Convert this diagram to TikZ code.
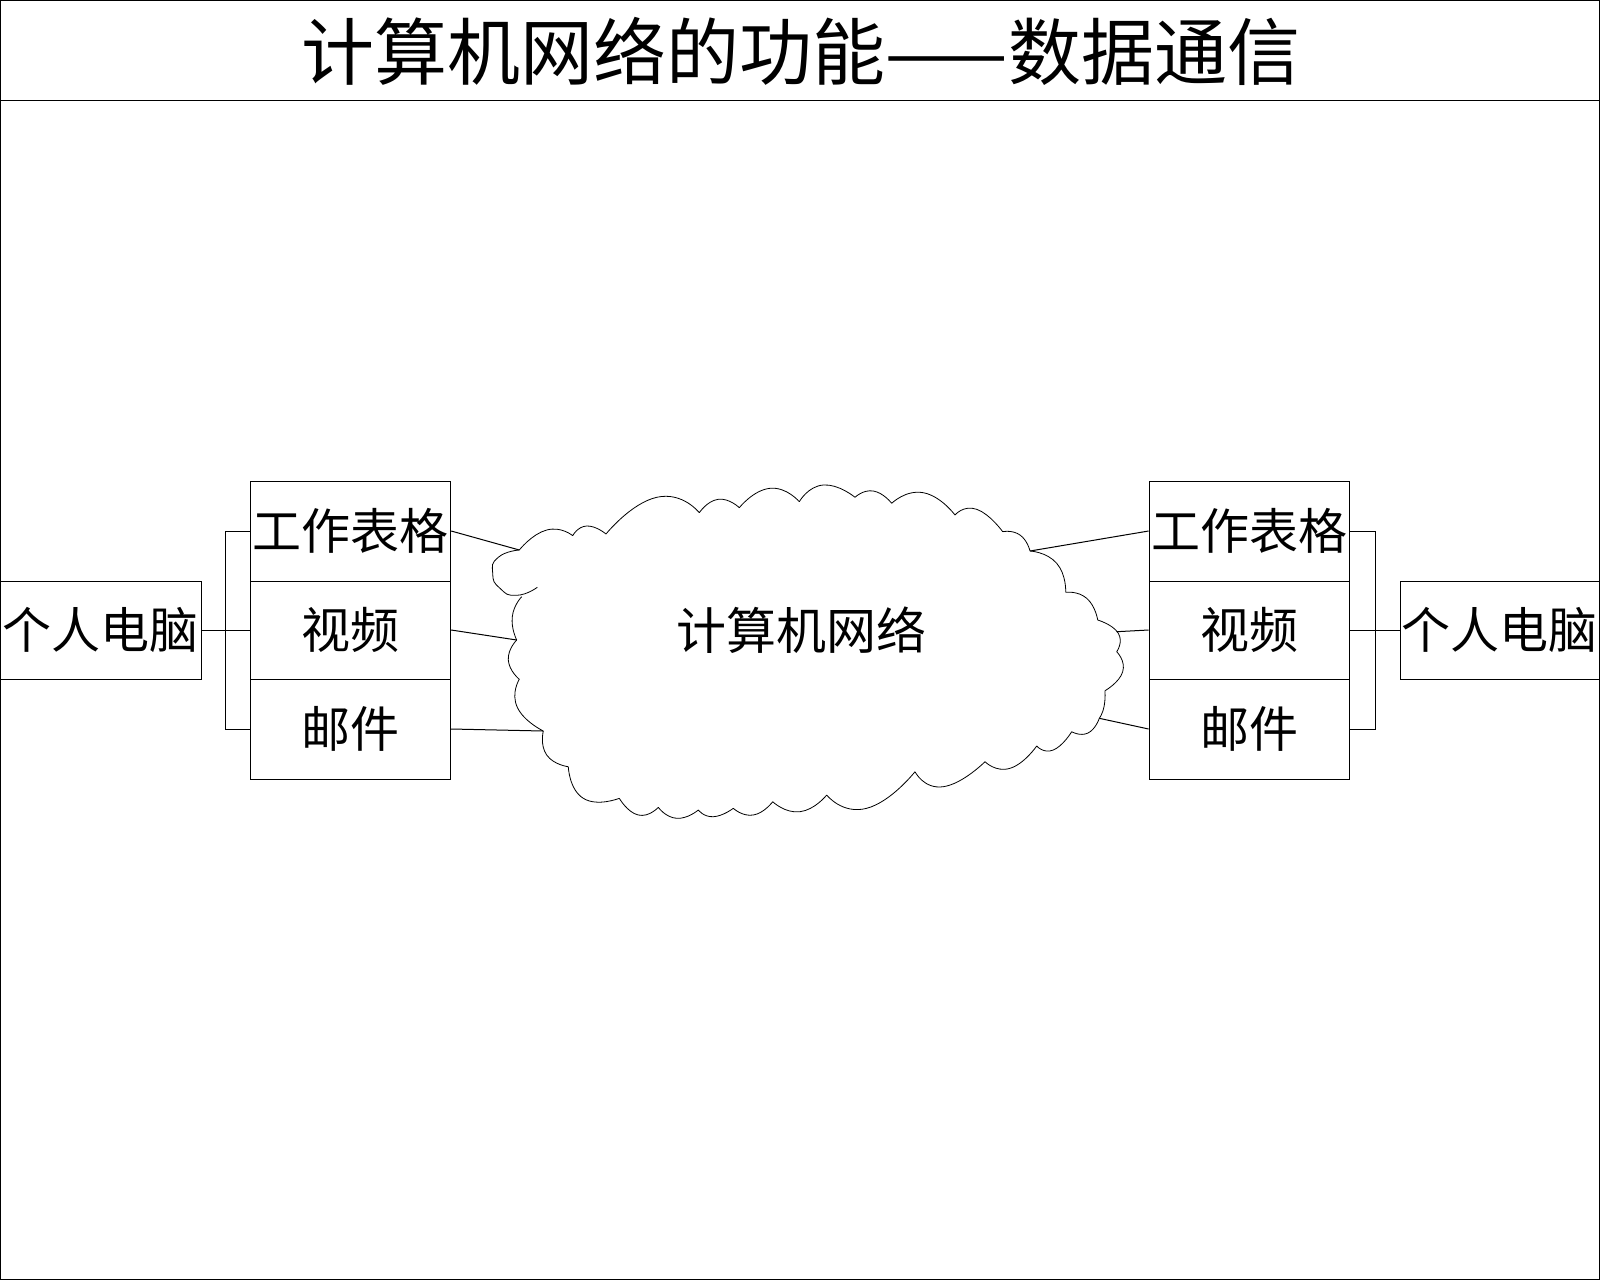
\documentclass[tikz,border=0pt]{standalone}
\usepackage{fontspec}
\setmainfont{Noto Sans CJK SC}
\begin{document}
\begin{tikzpicture}[x={(1pt,0pt)}, y={(0pt,-1pt)}, line width=1pt,
  box/.style={draw, inner sep=0pt, minimum width=200.4pt, font=\fontsize{49}{49}\selectfont},
  pc/.style={draw, inner sep=0pt, minimum height=98pt, font=\fontsize{49}{49}\selectfont},
  lobe/.style={smooth, tension=1}]
\useasboundingbox (0,0) rectangle (1600,1280);
% frame and title
\draw (0.5,0.5) rectangle (1599,1279);
\draw (0.5,100) -- (1599,100);
\node[font=\fontsize{73}{73}\selectfont, inner sep=0pt] (title) at (801,51) {计算机网络的功能——数据通信};

% left side
\node[pc, minimum width=201pt] (pcL) at (100.5,630) {个人电脑};
\node[box, minimum height=100pt] (wsL) at (350.5,531) {工作表格};
\node[box, minimum height=98pt] (vidL) at (350.5,630) {视频};
\node[box, minimum height=100pt] (mailL) at (350.5,729) {邮件};

% right side
\node[pc, minimum width=199pt] (pcR) at (1499.8,630) {个人电脑};
\node[box, minimum height=100pt] (wsR) at (1249.3,531) {工作表格};
\node[box, minimum height=98pt] (vidR) at (1249.3,630) {视频};
\node[box, minimum height=100pt] (mailR) at (1249.3,729) {邮件};

% brackets
\draw (pcL.east) -- (vidL.west);
\draw (wsL.west) -- ++(-24.6,0) |- (mailL.west);
\draw (vidR.east) -- (pcR.west);
\draw (wsR.east) -- ++(25,0) |- (mailR.east);

% cloud
\node[font=\fontsize{50}{50}\selectfont, inner sep=0pt] (net) at (801,630) {计算机网络};
\coordinate (k1) at (519.3,550);
\coordinate (k2) at (516.7,640);
\coordinate (k3) at (543.3,731);
\coordinate (k4) at (1030,551);
\coordinate (k5) at (1116.7,631.7);
\coordinate (k6) at (1099.3,718.3);
\draw[line width=0.8pt]
  plot[lobe] coordinates {(519.3,550) (546.7,530) (572.7,535.7)}
  plot[lobe] coordinates {(572.7,535.7) (586.7,526) (606,534)}
  plot[lobe] coordinates {(606,534) (656.7,497.3) (699.3,512.7)}
  plot[lobe] coordinates {(699.3,512.7) (718.3,499.3) (739.3,507.7)}
  plot[lobe] coordinates {(739.3,507.7) (770,488.3) (799.3,501.7)}
  plot[lobe] coordinates {(799.3,501.7) (823.3,485) (855,497.3)}
  plot[lobe] coordinates {(855,497.3) (873.3,491) (891.7,503.3)}
  plot[lobe] coordinates {(891.7,503.3) (923.3,492.7) (955,515)}
  plot[lobe] coordinates {(955,515) (976.7,509.3) (1002.7,531.7)}
  plot[lobe] coordinates {(1002.7,531.7) (1020,535) (1030,551)}
  plot[lobe] coordinates {(1030,551) (1056.7,563.3) (1065.7,592.3)}
  plot[lobe] coordinates {(1065.7,592.3) (1086.7,598.3) (1097.7,620)}
  plot[lobe] coordinates {(1097.7,620) (1118.3,633.3) (1116.7,651.7)}
  plot[lobe] coordinates {(1116.7,651.7) (1122.7,671.7) (1105,690.7)}
  plot[lobe] coordinates {(1105,690.7) (1104,706.7) (1099.3,718.3)}
  plot[lobe] coordinates {(1099.3,718.3) (1088,733) (1071.7,731.7)}
  plot[lobe] coordinates {(1071.7,731.7) (1053.3,750) (1036.7,746)}
  plot[lobe] coordinates {(1036.7,746) (1010,768.3) (985,761.7)}
  plot[lobe] coordinates {(985,761.7) (943.3,786.7) (915,771.7)}
  plot[lobe] coordinates {(915,771.7) (866.7,808.3) (826.7,795)}
  plot[lobe] coordinates {(826.7,795) (800,811.7) (772.7,801.7)}
  plot[lobe] coordinates {(772.7,801.7) (753.3,815) (733.3,808.3)}
  plot[lobe] coordinates {(733.3,808.3) (713.3,816.7) (698.3,810)}
  plot[lobe] coordinates {(698.3,810) (676.7,818.3) (658.3,807.3)}
  plot[lobe] coordinates {(658.3,807.3) (638.3,815) (619.3,798.3)}
  plot[lobe] coordinates {(619.3,798.3) (583.3,798.3) (568.3,766.7)}
  plot[lobe] coordinates {(568.3,766.7) (546.7,755) (543.3,731)}
  plot[lobe] coordinates {(543.3,731) (517.3,707.3) (519.3,679.3)}
  plot[lobe] coordinates {(519.3,679.3) (508.3,660) (516.7,640)}
  plot[lobe] coordinates {(516.7,640) (512.3,616.7) (521.7,596.7)}
  plot[lobe] coordinates {(519.3,550) (498.3,557.3) (492.7,573.3) (500,588.3) (516.7,595.3) (537.3,587.3)};

% connectors to the cloud
\draw (wsL.east) -- (k1);
\draw (vidL.east) -- (k2);
\draw (mailL.east) -- (k3);
\draw (wsR.west) -- (k4);
\draw (vidR.west) -- (k5);
\draw (mailR.west) -- (k6);
\end{tikzpicture}
\end{document}
